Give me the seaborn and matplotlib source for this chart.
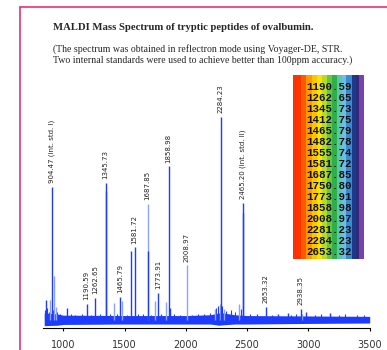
import numpy as np
import seaborn as sns
import matplotlib
matplotlib.use("Agg")
from matplotlib import pyplot as plt
from matplotlib.lines import Line2D

sns.set_theme(style="white")
plt.rcParams['font.family'] = ['DejaVu Sans']

# labelled (bright) peaks: mass, relative intensity
main_mass = [861, 905, 1027, 1190.59, 1262.65, 1345.73, 1346.73, 1465.79, 1555.74,
             1581.72, 1688.85, 1773.91, 1858.98, 1870, 2284.23, 2465.20, 2466.2,
             2653.32, 2755, 2831, 2938.35, 2980, 3176]
main_int = [10, 66, 6, 8, 11, 68, 64, 11.5, 34,
            36, 34, 13.5, 76, 6, 100.5, 58, 53,
            6.5, 3, 3.5, 5.5, 4, 3.5]

# lighter (isotope / minor) peaks
light_mass = [892, 927, 938, 1412.75, 1482.78, 1687.85, 1750.80, 1838, 2008.97,
              2240, 2311, 2432, 2281.23, 2945]
light_int = [10, 22, 6.5, 8.5, 9.5, 57.5, 9.5, 9, 27,
             5.5, 5.5, 8, 8, 3]

# small spikes riding on the noisy baseline
noise_mass = [850, 870, 880, 915, 950, 975, 1060, 1100, 1150, 1230, 1300, 1380,
              1440, 1520, 1610, 1650, 1720, 1800, 1900, 1950, 2050, 2100, 2150,
              2200, 2250, 2262, 2295, 2330, 2370, 2400, 2450, 2520, 2580, 2700,
              2860, 2900, 3050, 3100, 3250, 3300, 3400, 3450]
noise_int = [5, 6, 4, 5, 4, 3, 3, 2.5, 3, 2.5, 3, 3,
             3, 2.5, 3, 3, 2.5, 3, 3, 2.5, 2.5, 3, 3,
             3.5, 6, 7, 7, 4.5, 5, 4, 5.5, 3, 3, 2.5,
             2.5, 3, 2.5, 3, 2.5, 3, 2.5, 2.5]

# baseline noise band (lower / upper envelope)
base_mass = [845, 950, 1000, 1500, 2000, 2200, 2270, 2300, 2400, 2500, 3000, 3500]
base_lo = [-2.8, -2.6, -2.2, -2.0, -2.0, -2.0, -2.6, -2.4, -2.0, -2.0, -1.7, -1.5]
base_hi = [3.5, 3.0, 2.4, 2.2, 2.2, 2.6, 3.5, 3.5, 2.6, 2.2, 2.0, 1.8]

peak_labels = {
    905: "904.47 (int. std. I)",
    1190.59: "1190.59",
    1262.65: "1262.65",
    1345.73: "1345.73",
    1465.79: "1465.79",
    1581.72: "1581.72",
    1687.85: "1687.85",
    1773.91: "1773.91",
    1858.98: "1858.98",
    2008.97: "2008.97",
    2284.23: "2284.23",
    2465.20: "2465.20 (int. std. II)",
    2653.32: "2653.32",
    2938.35: "2938.35",
}

table_masses = ["1190.59", "1262.65", "1345.73", "1412.75", "1465.79", "1482.78",
                "1555.74", "1581.72", "1687.85", "1750.80", "1773.91", "1858.98",
                "2008.97", "2281.23", "2284.23", "2653.32"]
stripe_colors = ["#ff3300", "#ff5a00", "#ff9a00", "#ffc400", "#f8e400", "#b4da2a",
                 "#6cc63c", "#30ae4c", "#5cc6ac", "#6cbee2", "#3a8cd0", "#20388a",
                 "#2c2c78", "#7a42a8"]
stripe_widths = [25, 15, 17, 15, 15, 15, 15, 15, 15, 12, 16, 12, 10, 15]

BRIGHT = "#1e3cff"
LIGHT = "#8da2ff"

fig = plt.figure(figsize=(3.87, 3.5), dpi=100)
ax = fig.add_axes([43 / 387, 22 / 350, 326.7 / 387, 248 / 350])

ax.fill_between(base_mass, base_lo, base_hi, color=BRIGHT, lw=0)
ax.vlines(noise_mass, 0, noise_int, color=BRIGHT, lw=0.8)
ax.vlines(light_mass, 0, light_int, color=LIGHT, lw=1.0)
ax.vlines(main_mass, 0, main_int, color=BRIGHT, lw=1.0)

lookup = dict(zip(main_mass + light_mass, main_int + light_int))
for m, txt in peak_labels.items():
    h = lookup.get(m, max(v for k, v in lookup.items() if abs(k - m) < 10))
    ax.annotate(txt, (m, h), xytext=(0, 2.5), textcoords="offset points",
                rotation=90, ha="center", va="bottom", fontsize=5, color="#222222",
                annotation_clip=False)

ax.set_xlim(835, 3500)
ax.set_ylim(-3.96, 118.8)
ax.set_xticks([1000, 1500, 2000, 2500, 3000, 3500])
ax.set_yticks([])
sns.despine(ax=ax, left=True, top=True, right=True)
ax.spines["bottom"].set_color("black")
ax.spines["bottom"].set_linewidth(0.8)
ax.tick_params(axis="x", direction="out", length=2.5, width=0.8, pad=6,
               labelsize=7, colors="black", labelcolor="#333333", bottom=True)
ax.patch.set_alpha(0)

# colour table of peptide masses
lax = fig.add_axes([293 / 387, (350 - 259) / 350, 71 / 387, 184 / 350])
x0 = 0
for c, w in zip(stripe_colors, stripe_widths):
    lax.axvspan(x0, x0 + w, color=c, lw=0)
    x0 += w
lax.set_xlim(0, sum(stripe_widths))
lax.set_ylim(len(table_masses) + 0.1, -0.6)
for i, t in enumerate(table_masses):
    lax.text(sum(stripe_widths) / 2 + 3, i + 0.45, t, ha="center", va="center",
             fontsize=7.8, fontweight="bold", family="Liberation Mono", color="#111111")
lax.set_xticks([])
lax.set_yticks([])
for s in lax.spines.values():
    s.set_visible(False)

fig.text(53 / 387, 1 - 28 / 350, "MALDI Mass Spectrum of tryptic peptides of ovalbumin.",
         family="Liberation Serif", fontweight="bold", fontsize=7.7, va="center")
fig.text(53 / 387, 1 - 49 / 350,
         "(The spectrum was obtained in reflectron mode using Voyager-DE, STR.",
         family="Liberation Serif", fontsize=7.1, va="center")
fig.text(53 / 387, 1 - 60 / 350,
         "Two internal standards were used to achieve better than 100ppm accuracy.)",
         family="Liberation Serif", fontsize=7.1, va="center")

pink = "#e8336e"
fig.add_artist(Line2D([19.5 / 387, 19.5 / 387], [0, 1 - 7 / 350], color=pink, lw=1.2))
fig.add_artist(Line2D([19.5 / 387, 1], [1 - 7 / 350, 1 - 7 / 350], color=pink, lw=1.2))

fig.savefig("out.png", dpi=100)
